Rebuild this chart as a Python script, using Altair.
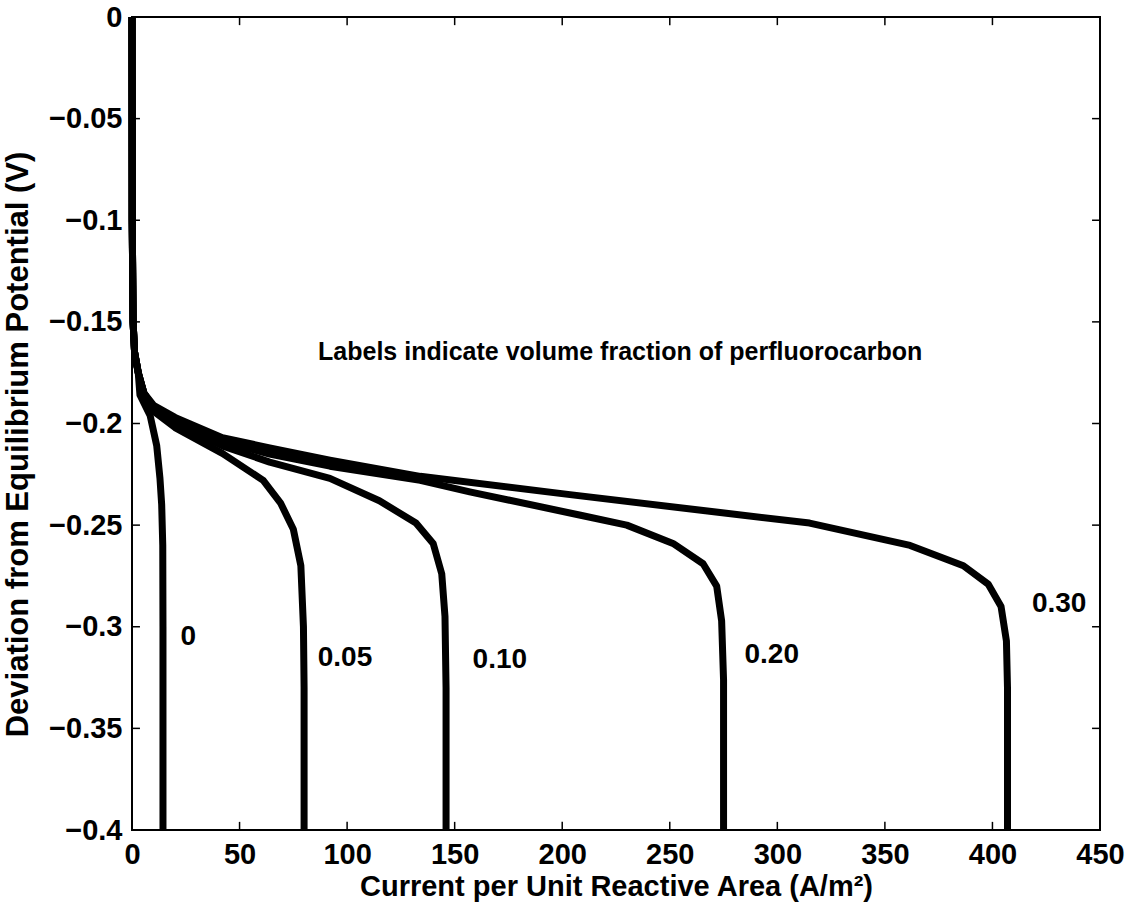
import altair as alt
import pandas as pd

FONT = "Liberation Sans"

# ---- data ----
series_names = ["0", "0.05", "0.10", "0.20", "0.30"]

head_cur = [0, 0.1, 0.5, 1.2, 2.9]
head_pot = [0, -0.1, -0.15, -0.165, -0.175]

cur_000 = head_cur + [3.7, 8.4, 11.5, 13.0, 13.8, 14.3, 14.4, 14.4]
pot_000 = head_pot + [-0.186, -0.196, -0.211, -0.227, -0.240, -0.260, -0.300, -0.400]

cur_005 = head_cur + [5.5, 10, 20, 42, 61, 69, 75, 78.5, 79.7, 80, 80]
pot_005 = head_pot + [-0.185, -0.194, -0.202, -0.2147, -0.228, -0.239, -0.252, -0.270, -0.300, -0.330, -0.400]

cur_010 = head_cur + [5.5, 10, 20, 42, 64, 92, 115, 132, 140, 144, 145.5, 146, 146]
pot_010 = head_pot + [-0.185, -0.193, -0.200, -0.211, -0.219, -0.227, -0.238, -0.249, -0.259, -0.274, -0.295, -0.330, -0.400]

cur_020 = head_cur + [5.5, 10, 20, 42, 64, 92, 134, 157, 208, 230, 251.5, 265.5, 271.8, 274.1, 275, 275]
pot_020 = head_pot + [-0.185, -0.192, -0.198, -0.209, -0.215, -0.221, -0.228, -0.2336, -0.245, -0.250, -0.259, -0.269, -0.280, -0.297, -0.326, -0.400]

cur_030 = head_cur + [5.5, 10, 20, 42, 64, 92, 134, 203.6, 273.4, 315, 361.7, 386.5, 398, 404, 406.5, 407, 407]
pot_030 = head_pot + [-0.185, -0.191, -0.197, -0.207, -0.212, -0.218, -0.226, -0.235, -0.2438, -0.249, -0.260, -0.270, -0.279, -0.290, -0.307, -0.330, -0.400]

label_text = ["0", "0.05", "0.10", "0.20", "0.30"]
label_cur = [26.2, 99, 171, 297.4, 431]
label_pot = [-0.305, -0.3156, -0.3165, -0.314, -0.289]

note_text = ["Labels indicate volume fraction of perfluorocarbon"]
note_cur = [86.5]
note_pot = [-0.165]

x_ticks = [0, 50, 100, 150, 200, 250, 300, 350, 400, 450]
y_ticks = [0, -0.05, -0.1, -0.15, -0.2, -0.25, -0.3, -0.35, -0.4]
x_dom = [0, 450]
y_dom = [-0.4, 0]
x_tick_len = 0.004   # inward tick length in potential units
y_tick_len = 3.7     # inward tick length in current units

# ---- build tables ----
rows = []
for name, xs, ys in zip(series_names,
                        [cur_000, cur_005, cur_010, cur_020, cur_030],
                        [pot_000, pot_005, pot_010, pot_020, pot_030]):
    for i, (a, b) in enumerate(zip(xs, ys)):
        rows.append({"series": name, "i": i, "cur": a, "pot": b})
curves = pd.DataFrame(rows)

labels = pd.DataFrame({"t": label_text, "cur": label_cur, "pot": label_pot})
note = pd.DataFrame({"t": note_text, "cur": note_cur, "pot": note_pot})

xt = pd.DataFrame(
    [{"cur": v, "p1": y_dom[0], "p2": y_dom[0] + x_tick_len} for v in x_ticks]
    + [{"cur": v, "p1": y_dom[1], "p2": y_dom[1] - x_tick_len} for v in x_ticks]
)
yt = pd.DataFrame(
    [{"pot": v, "c1": x_dom[0], "c2": x_dom[0] + y_tick_len} for v in y_ticks]
    + [{"pot": v, "c1": x_dom[1], "c2": x_dom[1] - y_tick_len} for v in y_ticks]
)

xscale = alt.Scale(domain=x_dom, nice=False, zero=False)
yscale = alt.Scale(domain=y_dom, nice=False, zero=False)

x_axis = alt.Axis(
    values=x_ticks, title="Current per Unit Reactive Area (A/m²)",
    grid=False, ticks=False, domain=False,
    labelFont=FONT, labelFontSize=29, labelFontWeight="bold", labelColor="black",
    labelPadding=10, titleFont=FONT, titleFontSize=29, titleFontWeight="bold",
    titleColor="black", titlePadding=3, labelFlush=False,
)
y_axis = alt.Axis(
    values=y_ticks, title="Deviation from Equilibrium Potential (V)", format=".2~f",
    grid=False, ticks=False, domain=False,
    labelFont=FONT, labelFontSize=29, labelFontWeight="bold", labelColor="black",
    labelPadding=10, titleFont=FONT, titleFontSize=31, titleFontWeight="bold",
    titleColor="black", titlePadding=14, labelFlush=False, titleY=427,
)

lines = alt.Chart(curves).mark_line(color="black", strokeWidth=7, strokeJoin="round").encode(
    x=alt.X("cur:Q", scale=xscale, axis=x_axis),
    y=alt.Y("pot:Q", scale=yscale, axis=y_axis),
    detail="series:N",
    order="i:Q",
)

xtick_layer = alt.Chart(xt).mark_rule(color="black", strokeWidth=1.5).encode(
    x=alt.X("cur:Q", scale=xscale), y=alt.Y("p1:Q", scale=yscale), y2="p2:Q"
)
ytick_layer = alt.Chart(yt).mark_rule(color="black", strokeWidth=1.5).encode(
    y=alt.Y("pot:Q", scale=yscale), x=alt.X("c1:Q", scale=xscale), x2="c2:Q"
)

label_layer = alt.Chart(labels).mark_text(
    font=FONT, fontSize=28, fontWeight="bold", color="black", align="center", baseline="middle"
).encode(x=alt.X("cur:Q", scale=xscale), y=alt.Y("pot:Q", scale=yscale), text="t:N")

note_layer = alt.Chart(note).mark_text(
    font=FONT, fontSize=25, fontWeight="bold", color="black", align="left", baseline="middle"
).encode(x=alt.X("cur:Q", scale=xscale), y=alt.Y("pot:Q", scale=yscale), text="t:N")

chart = alt.layer(lines, xtick_layer, ytick_layer, label_layer, note_layer).properties(
    width=968, height=813,
    autosize=alt.AutoSizeParams(type="none"),
    padding={"left": 132, "top": 17, "right": 32, "bottom": 86},
    background="white",
).configure_view(stroke="black", strokeWidth=2)

chart.save("out.html", embed_options={"renderer": "svg", "actions": False})
